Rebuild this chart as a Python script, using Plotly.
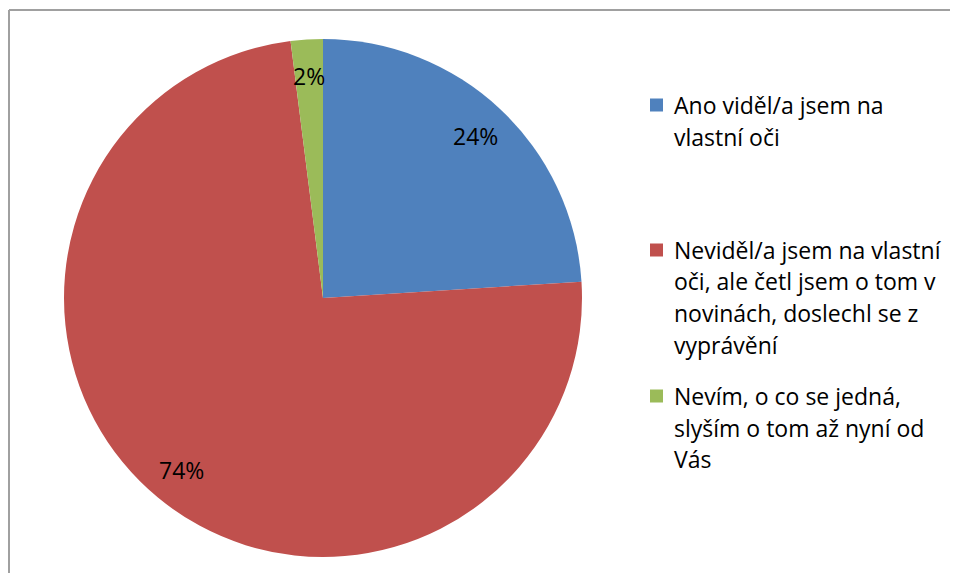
import plotly.graph_objects as go
import math

labels = [
    "Ano viděl/a jsem na<br>vlastní oči",
    "Neviděl/a jsem na vlastní<br>oči, ale četl jsem o tom v<br>novinách, doslechl se z<br>vyprávění",
    "Nevím, o co se jedná,<br>slyším o tom až nyní od<br>Vás",
]
values = [24, 74, 2]
colors = ["#4F81BD", "#C0504D", "#9BBB59"]

# page has an 8px body margin; figure fills the rest of the 958x581 window
OFF = 8
W, H = 958 - 2 * OFF, 581 - 2 * OFF
FONT = "Open Sans, sans-serif"
FS = 23


def px(X):
    return (X - OFF) / W


def py(Y):
    return 1 - (Y - OFF) / H


cx, cy, R = 323, 298, 259

fig = go.Figure(go.Pie(
    labels=labels, values=values, sort=False, direction="clockwise",
    marker=dict(colors=colors, line=dict(width=0)),
    textinfo="none", hoverinfo="label+percent", showlegend=False,
    domain=dict(x=[px(cx - R), px(cx + R)], y=[py(cy + R), py(cy - R)]),
))

# percentage labels placed from the data
total = sum(values)
cum = 0
annotations = []
for v in values:
    mid = (cum + v / 2) / total * 2 * math.pi
    cum += v
    r = 0.86 * R
    x = cx + r * math.sin(mid)
    y = cy - r * math.cos(mid)
    annotations.append(dict(x=px(x), y=py(y), xref="paper", yref="paper",
                            xanchor="center", yanchor="middle",
                            text=f"{round(v / total * 100)}%", showarrow=False,
                            font=dict(size=FS, color="black", family=FONT)))

# legend (manual, Excel-style spacing)
legend_first_line_y = [105, 250, 396]
LINE = 31.5
shapes = []
for lab, col, ly in zip(labels, colors, legend_first_line_y):
    for i, line in enumerate(lab.split("<br>")):
        annotations.append(dict(x=px(672), y=py(ly + i * LINE), xref="paper", yref="paper",
                                xanchor="left", yanchor="middle", align="left",
                                text=line, showarrow=False,
                                font=dict(size=FS, color="black", family=FONT)))
    shapes.append(dict(type="rect", xref="paper", yref="paper",
                       x0=px(650), x1=px(663), y0=py(ly + 6.5), y1=py(ly - 6.5),
                       fillcolor=col, line=dict(width=0)))

# chart border (top and left visible)
shapes.append(dict(type="line", xref="paper", yref="paper", x0=px(9), x1=1.0,
                   y0=py(10), y1=py(10), line=dict(color="#A0A0A0", width=2)))
shapes.append(dict(type="line", xref="paper", yref="paper", x0=px(9), x1=px(9),
                   y0=0, y1=py(10), line=dict(color="#A0A0A0", width=2)))

fig.update_layout(width=W, height=H, margin=dict(l=0, r=0, t=0, b=0),
                  paper_bgcolor="white", plot_bgcolor="white",
                  annotations=annotations, shapes=shapes,
                  font=dict(family=FONT))
fig.write_html("out.html")
